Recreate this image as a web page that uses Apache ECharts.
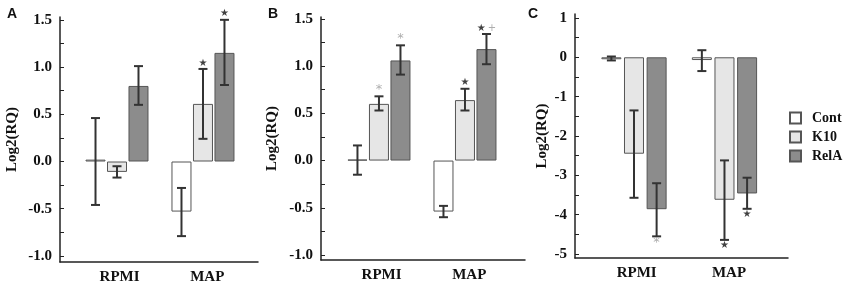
<!DOCTYPE html>
<html>
<head>
<meta charset="utf-8">
<script src="https://cdn.jsdelivr.net/npm/echarts@6/dist/echarts.min.js"></script>
<style>
html, body { margin: 0; padding: 0; background: #fff; }
#chart { width: 851px; height: 285px; }
</style>
</head>
<body>
<div id="chart"></div>
<script>
var groups = ['RPMI', 'MAP'];
var names = ['Cont', 'K10', 'RelA'];

// panel A
var aCont = [0.02, -0.53];
var aK10 = [-0.11, 0.61];
var aRelA = [0.80, 1.15];
var aContErr = [[-0.46, 0.46], [-0.79, -0.28]];
var aK10Err = [[-0.17, -0.05], [0.24, 0.98]];
var aRelAErr = [[0.60, 1.01], [0.81, 1.50]];
var aMarks = [[1, 1, 'star'], [1, 2, 'star']];

// panel B
var bCont = [0.01, -0.54];
var bK10 = [0.60, 0.64];
var bRelA = [1.06, 1.18];
var bContErr = [[-0.15, 0.16], [-0.60, -0.48]];
var bK10Err = [[0.53, 0.68], [0.53, 0.76]];
var bRelAErr = [[0.91, 1.22], [1.02, 1.34]];
var bMarks = [[0, 1, 'ast'], [0, 2, 'ast'], [1, 1, 'star'], [1, 2, 'starplus']];

// panel C
var cCont = [-0.05, -0.07];
var cK10 = [-2.45, -3.62];
var cRelA = [-3.86, -3.46];
var cContErr = [[-0.08, 0.02], [-0.35, 0.18]];
var cK10Err = [[-3.57, -1.35], [-4.64, -2.62]];
var cRelAErr = [[-4.55, -3.20], [-3.85, -3.06]];
var cMarks = [[0, 2, 'ast'], [1, 1, 'star'], [1, 2, 'star']];

var abTicks = [-1, -0.75, -0.5, -0.25, 0, 0.25, 0.5, 0.75, 1, 1.25, 1.5];
var abLabels = [-1, -0.5, 0, 0.5, 1, 1.5];
var cTicks = [-5, -4.5, -4, -3.5, -3, -2.5, -2, -1.5, -1, -0.5, 0, 0.5, 1];
var cLabels = [-5, -4, -3, -2, -1, 0, 1];

var fills = ['#ffffff', '#e6e6e6', '#8c8c8c'];
var xOff = [-0.25, 0, 0.25];
var serif = "'Liberation Serif', 'Times New Roman', serif";

var panels = [
    {vals: [aCont, aK10, aRelA], errs: [aContErr, aK10Err, aRelAErr], marks: aMarks,
     ticks: abTicks, labels: abLabels, dec: 1, ymin: -1.064, ymax: 1.53,
     grid: {left: 60, width: 198, top: 17, height: 245}, xmin: 0.337, xmax: 2.640, nameGap: 40},
    {vals: [bCont, bK10, bRelA], errs: [bContErr, bK10Err, bRelAErr], marks: bMarks,
     ticks: abTicks, labels: abLabels, dec: 1, ymin: -1.053, ymax: 1.52,
     grid: {left: 321, width: 204, top: 17, height: 243}, xmin: 0.326, xmax: 2.698, nameGap: 41},
    {vals: [cCont, cK10, cRelA], errs: [cContErr, cK10Err, cRelAErr], marks: cMarks,
     ticks: cTicks, labels: cLabels, dec: 0, ymin: -5.1, ymax: 1.1,
     grid: {left: 575, width: 213, top: 14, height: 244}, xmin: 0.348, xmax: 2.702, nameGap: 25}
];

var grids = [], xAxes = [], yAxes = [], series = [];

panels.forEach(function (p, pi) {
    grids.push(p.grid);
    xAxes.push({
        type: 'value', gridIndex: pi, min: p.xmin, max: p.xmax,
        splitLine: {show: false},
        axisLine: {show: true, onZero: false, lineStyle: {color: '#222', width: 1.5}},
        axisTick: {show: false},
        axisLabel: {
            customValues: [1.03, 2.05], margin: 8,
            formatter: function (v) { return groups[Math.round(v) - 1]; },
            fontFamily: serif, fontWeight: 'bold', fontSize: 15, color: '#111'
        }
    });
    yAxes.push({
        type: 'value', gridIndex: pi, min: p.ymin, max: p.ymax,
        name: 'Log2(RQ)', nameLocation: 'middle', nameRotate: 90, nameGap: p.nameGap,
        nameTextStyle: {fontFamily: serif, fontWeight: 'bold', fontSize: 15, color: '#111'},
        splitLine: {show: false},
        axisLine: {show: true, onZero: false, lineStyle: {color: '#222', width: 1.5}},
        axisTick: {show: true, inside: true, length: 4, customValues: p.ticks, lineStyle: {color: '#222'}},
        axisLabel: {
            customValues: p.labels, margin: 8,
            formatter: function (v) { return v.toFixed(p.dec); },
            fontFamily: serif, fontWeight: 'bold', fontSize: 15, color: '#111'
        }
    });

    // bars
    names.forEach(function (n, si) {
        series.push({
            name: n, type: 'bar', xAxisIndex: pi, yAxisIndex: pi,
            barWidth: 20, barGap: '-100%',
            itemStyle: {color: fills[si], borderColor: '#555', borderWidth: 1},
            data: p.vals[si].map(function (v, g) { return [g + 1 + xOff[si], v]; })
        });
    });

    // error bars
    var errData = [];
    names.forEach(function (n, si) {
        p.errs[si].forEach(function (e, g) {
            errData.push([g + 1 + xOff[si], e[0], e[1]]);
        });
    });
    series.push({
        type: 'custom', xAxisIndex: pi, yAxisIndex: pi, z: 5,
        data: errData,
        renderItem: function (params, api) {
            var lo = api.coord([api.value(0), api.value(1)]);
            var hi = api.coord([api.value(0), api.value(2)]);
            var hw = 4.5;
            var st = {stroke: '#333', lineWidth: 2};
            return {type: 'group', children: [
                {type: 'line', shape: {x1: lo[0], y1: lo[1], x2: hi[0], y2: hi[1]}, style: st},
                {type: 'line', shape: {x1: lo[0] - hw, y1: lo[1], x2: lo[0] + hw, y2: lo[1]}, style: st},
                {type: 'line', shape: {x1: hi[0] - hw, y1: hi[1], x2: hi[0] + hw, y2: hi[1]}, style: st}
            ]};
        }
    });

    // significance marks
    var markData = p.marks.map(function (m) {
        var g = m[0], si = m[1];
        var neg = p.vals[si][g] < 0;
        var e = p.errs[si][g];
        var txt = m[2] === 'star' ? '{s|★}' : (m[2] === 'ast' ? '{a|*}' : '{s|★}{p|+}');
        return {
            value: [g + 1 + xOff[si], neg ? e[0] : e[1]],
            label: {show: true, position: neg ? 'bottom' : 'top', distance: m[2] === 'ast' ? 0 : 1, formatter: txt}
        };
    });
    series.push({
        type: 'scatter', xAxisIndex: pi, yAxisIndex: pi, symbolSize: 0, z: 6,
        data: markData, silent: true,
        label: {
            rich: {
                s: {fontFamily: 'DejaVu Sans', fontSize: 10, color: '#111'},
                a: {fontFamily: 'DejaVu Sans', fontSize: 13, color: '#999'},
                p: {fontFamily: 'DejaVu Sans', fontSize: 10, color: '#999', padding: [0, 0, 0, 2]}
            }
        }
    });
});

var myChart = echarts.init(document.getElementById('chart'));
var option = {
    backgroundColor: '#fff',
    animation: false,
    title: [
        {text: 'A', left: 2, top: 2, textStyle: {fontFamily: 'Liberation Sans', fontWeight: 'bold', fontSize: 14, color: '#111'}},
        {text: 'B', left: 263, top: 2, textStyle: {fontFamily: 'Liberation Sans', fontWeight: 'bold', fontSize: 14, color: '#111'}},
        {text: 'C', left: 523, top: 2, textStyle: {fontFamily: 'Liberation Sans', fontWeight: 'bold', fontSize: 14, color: '#111'}}
    ],
    legend: {
        data: names, orient: 'vertical', left: 784, top: 106,
        itemWidth: 11, itemHeight: 11, itemGap: 5, icon: 'rect',
        textStyle: {fontFamily: serif, fontWeight: 'bold', fontSize: 14, color: '#111', padding: [0, 0, 0, 6]}
    },
    grid: grids,
    xAxis: xAxes,
    yAxis: yAxes,
    series: series
};
myChart.setOption(option);
</script>
</body>
</html>
